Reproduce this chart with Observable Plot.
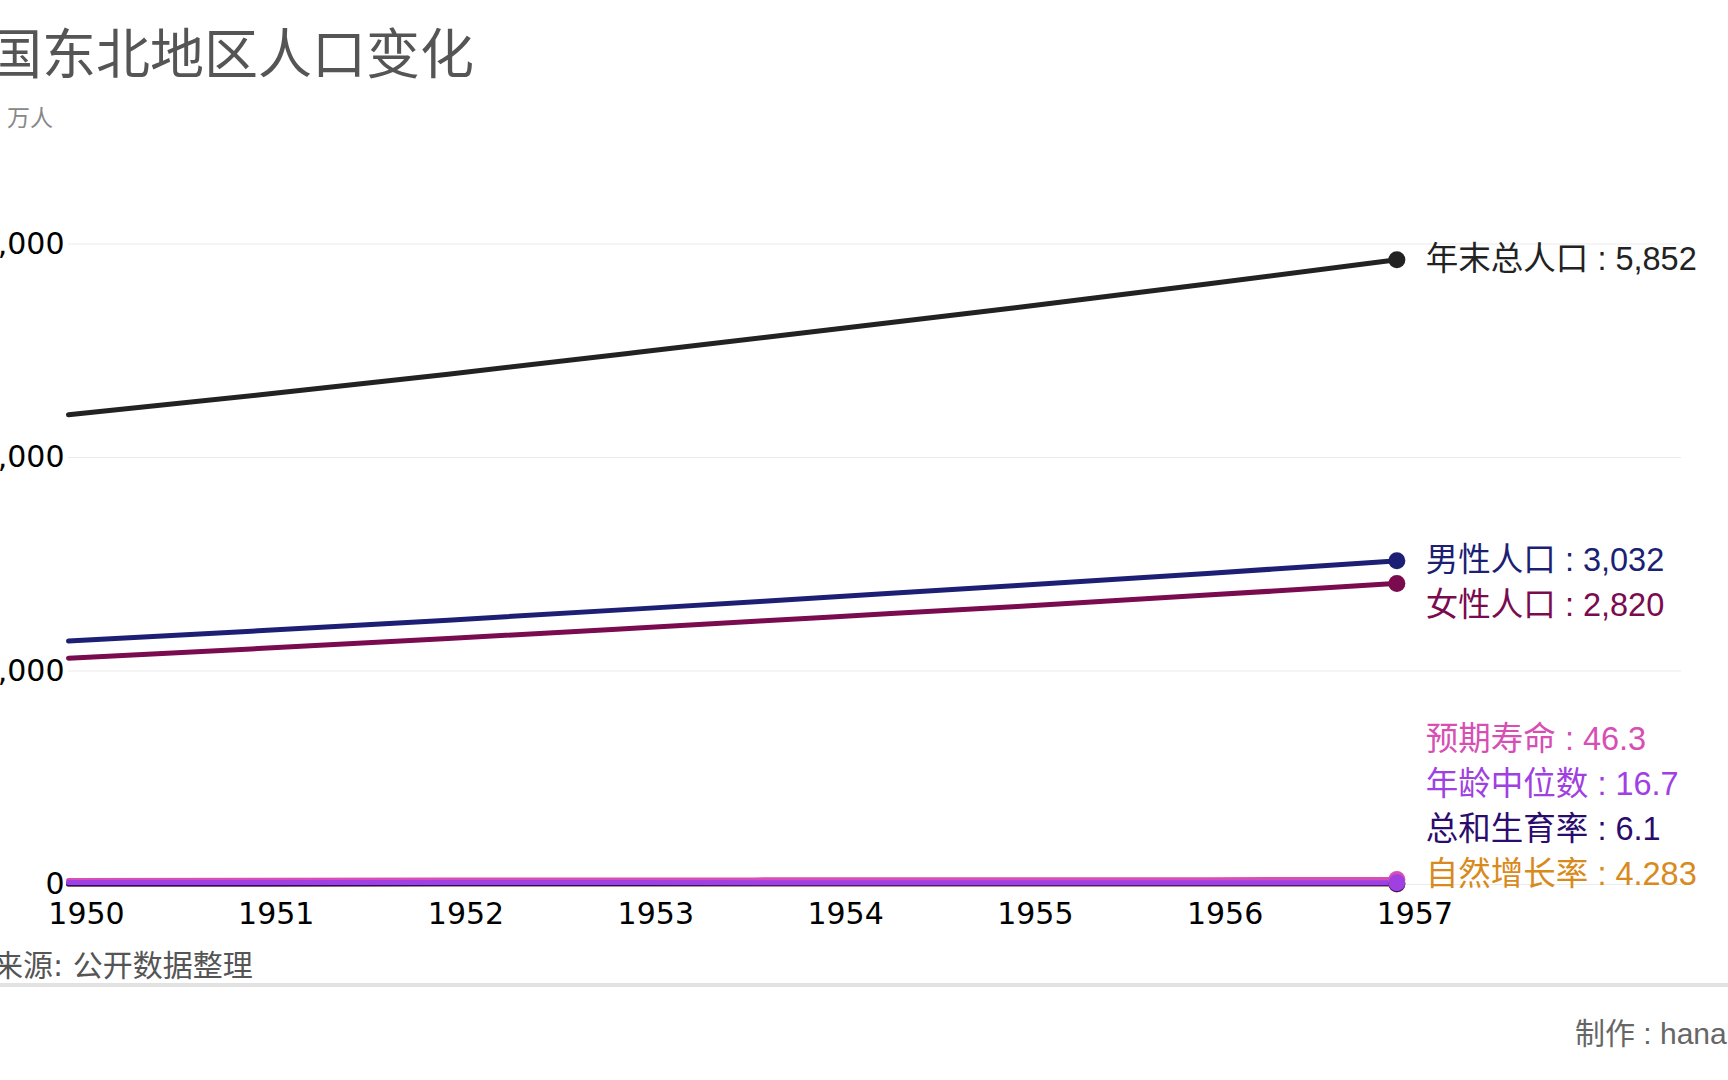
<!DOCTYPE html>
<html>
<head>
<meta charset="utf-8">
<script src="https://cdn.jsdelivr.net/npm/d3@7"></script>
<script src="https://cdn.jsdelivr.net/npm/@observablehq/plot@0.6"></script>
<style>
  html, body { margin: 0; padding: 0; background: #fff; }
  body { width: 1728px; height: 1080px; overflow: hidden; position: relative; font-family: "Noto Sans CJK SC", sans-serif; }
  .abs { position: absolute; white-space: nowrap; line-height: 1; }
  #title { left: -66px; top: 24px; font-size: 54px; color: #555; }
  #subtitle { left: -62px; top: 105px; font-size: 23px; color: #888; }
  #chart { position: absolute; left: -70px; top: 140px; }
  #caption { left: -67px; top: 951px; font-size: 30px; color: #555; font-family: "DejaVu Sans", "Noto Sans CJK SC", sans-serif; }
  #sep { position: absolute; left: 0; top: 983px; width: 1728px; height: 4px; background: #e2e2e2; }
  #credit { left: 1575px; top: 1019px; font-size: 30px; color: #666; font-family: "Liberation Sans", "Noto Sans CJK SC", sans-serif; }
</style>
</head>
<body>
<div id="title" class="abs">中国东北地区人口变化</div>
<div id="subtitle" class="abs">单位：万人</div>
<div id="chart"></div>
<div id="caption" class="abs">数据来源: 公开数据整理</div>
<div id="sep"></div>
<div id="credit" class="abs">制作 : hana</div>
<script>
// ---- data ----
const years = [1950, 1951, 1952, 1953, 1954, 1955, 1956, 1957];
const totalPop   = [4400, 4586, 4780, 4985, 5195, 5405, 5625, 5852];
const malePop    = [2280, 2376, 2476, 2582, 2691, 2800, 2914, 3032];
const femalePop  = [2120, 2210, 2304, 2403, 2504, 2605, 2711, 2820];
const natGrowth  = [3.1, 3.5, 3.6, 3.8, 3.9, 4.0, 4.1, 4.283];
const tfr        = [5.8, 5.7, 5.9, 6.0, 5.9, 6.0, 6.2, 6.1];
const lifeExp    = [38.5, 40.2, 41.5, 42.8, 43.6, 44.5, 45.4, 46.3];
const medianAge  = [18.6, 18.3, 18.0, 17.7, 17.4, 17.1, 16.9, 16.7];

// drawing order (last drawn on top)
const seriesNames  = ["年末总人口", "男性人口", "女性人口", "自然增长率", "总和生育率", "预期寿命", "年龄中位数"];
const seriesValues = [totalPop, malePop, femalePop, natGrowth, tfr, lifeExp, medianAge];
const seriesColors = ["#222222", "#1c1f74", "#7a0b4f", "#d88a1c", "#2b0b6e", "#d64fb4", "#a040e2"];

const yTicks = [0, 2000, 4000, 6000];

// ---- build ----
const fmt = d3.format(",");
const series = seriesNames.map((name, i) => ({
  name, color: seriesColors[i],
  rows: years.map((year, j) => ({year, value: seriesValues[i][j]}))
}));
const lastYear = years[years.length - 1];

const axisFont = "DejaVu Sans";
const labelFont = "Liberation Sans, Noto Sans CJK SC, sans-serif";

const base = {
  width: 1798, height: 800,
  marginLeft: 138, marginRight: 47, marginTop: 103.5, marginBottom: 56,
  x: {domain: [1950, 1958.5], label: null},
  y: {domain: [0, 6000], label: null},
  style: {fontFamily: axisFont, fontSize: "30px", color: "#000", background: "transparent", overflow: "visible"}
};

// first pass to get the y scale for label dodging
const probe = Plot.plot({...base, marks: [Plot.gridY(yTicks)]});
const ys = probe.scale("y");

const GAP = 45;
const labels = series.map(s => ({
  name: s.name, color: s.color, year: lastYear,
  value: s.rows[s.rows.length - 1].value
})).sort((a, b) => b.value - a.value);
const px = labels.map(d => ys.apply(d.value));
for (let i = 1; i < px.length; i++) px[i] = Math.max(px[i], px[i - 1] + GAP);
const bottomLimit = ys.apply(0) - 10;
px[px.length - 1] = Math.min(px[px.length - 1], bottomLimit);
for (let i = px.length - 2; i >= 0; i--) px[i] = Math.min(px[i], px[i + 1] - GAP);
labels.forEach((d, i) => d.labelValue = ys.invert(px[i]));

const marks = [
  Plot.gridY(yTicks, {stroke: "#000", strokeOpacity: 0.08, strokeWidth: 1}),
  Plot.axisY(yTicks, {tickSize: 0, tickPadding: 4, tickFormat: fmt, label: null, fontSize: 30}),
  Plot.axisX(years, {tickSize: 0, tickPadding: 18, dx: 18, tickFormat: d => String(d), label: null, fontSize: 30})
];
for (const s of series) {
  marks.push(Plot.line(s.rows, {x: "year", y: "value", stroke: s.color, strokeWidth: 5, curve: "monotone-x"}));
}
for (const s of series) {
  marks.push(Plot.dot(s.rows.filter(r => r.year === lastYear), {x: "year", y: "value", fill: s.color, r: 8.5}));
}
for (const d of labels) {
  marks.push(Plot.text([d], {
    x: "year", y: "labelValue",
    text: l => `${l.name} : ${fmt(l.value)}`,
    fill: d.color, textAnchor: "start", dx: 29,
    fontSize: 32.5, fontFamily: labelFont
  }));
}

const chart = Plot.plot({...base, marks});
document.getElementById("chart").appendChild(chart);
</script>
</body>
</html>
